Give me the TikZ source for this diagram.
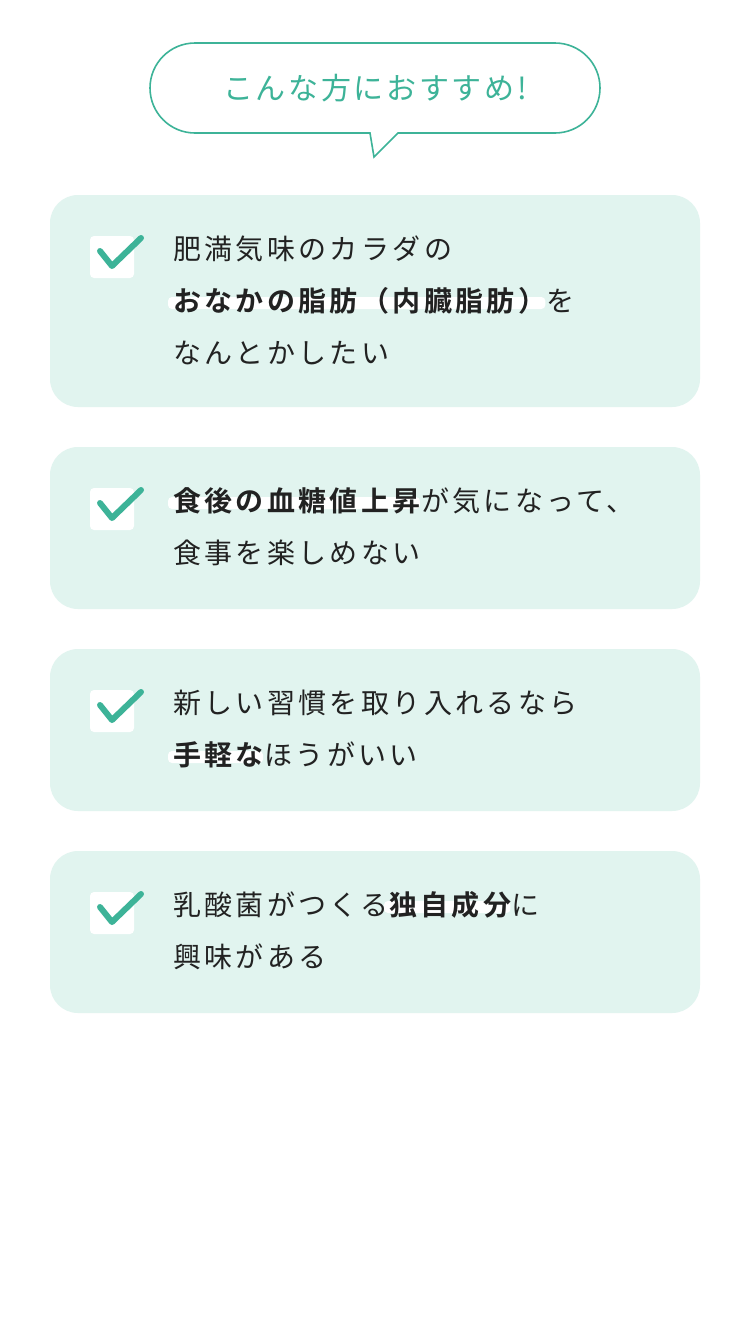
\documentclass[tikz,border=0pt]{standalone}
\usepackage{fontspec}
\setmainfont{Noto Sans CJK JP}
\newfontfamily\jpr[LetterSpace=12]{Noto Sans CJK JP}
\newfontfamily\jpb[LetterSpace=12]{Noto Sans CJK JP Bold}
\newfontfamily\jpt[LetterSpace=9]{Noto Sans CJK JP}
\definecolor{grn}{HTML}{3DB398}
\definecolor{cardbg}{HTML}{E1F4EF}
\definecolor{txtc}{HTML}{222222}
\pgfdeclarelayer{bgA}\pgfdeclarelayer{bgB}
\pgfsetlayers{bgA,bgB,main}
\tikzset{
 txt/.style={anchor=base west,inner sep=0pt,text=txtc,font=\fontsize{28}{32}\selectfont\jpr},
 btxt/.style={anchor=base west,inner sep=0pt,text=txtc,font=\fontsize{28}{32}\selectfont\jpb},
 card/.style={fill=cardbg,rounded corners=28pt},
 hl/.style={fill=white,rounded corners=4pt},
 chk/.style={draw=grn,line width=6pt,line cap=round,line join=round}
}
\newcommand\hilite[1]{\begin{pgfonlayer}{bgB}\fill[hl] ([xshift=-5pt,yshift=2pt]#1.base west) rectangle ([xshift=-1pt,yshift=14pt]#1.base east);\end{pgfonlayer}}
\newcommand\checkbox[1]{%
 \fill[white,rounded corners=4pt] (90,#1) rectangle (134,#1+42);
 \draw[chk] (100,#1+15) -- (112,#1+30) -- (141,#1+2);}
\begin{document}
\begin{tikzpicture}[x=1pt,y=-1pt]
\begin{pgfonlayer}{bgA}
\useasboundingbox[fill=white] (0,0) rectangle (750,1339);
\fill[card] (50,195) rectangle (700,407);
\fill[card] (50,447) rectangle (700,609);
\fill[card] (50,649) rectangle (700,811);
\fill[card] (50,851) rectangle (700,1013);
\end{pgfonlayer}
% bubble
\draw[grn,line width=1.6pt,fill=white] (195,43) -- (555,43) arc[start angle=-90,end angle=90,radius=45] -- (398,133) -- (374,157) -- (370,133) -- (195,133) arc[start angle=90,end angle=270,radius=45] -- cycle;
\node[font=\fontsize{30}{34}\selectfont\jpt,text=grn,inner sep=0pt] (title) at (375,88) {こんな方におすすめ!};
\checkbox{236}\checkbox{488}\checkbox{690}\checkbox{892}
% card 1
\node[txt] (a1) at (173,259) {肥満気味のカラダの};
\node[btxt] (a2) at (173,311) {おなかの脂肪（内臓脂肪）};
\node[txt] (a3) at (a2.base east) {を};
\hilite{a2}
\node[txt] (a4) at (173,363) {なんとかしたい};
% card 2
\node[btxt] (b1) at (173,511) {食後の血糖値上昇};
\node[txt] (b2) at (b1.base east) {が気になって、};
\hilite{b1}
\node[txt] (b3) at (173,563) {食事を楽しめない};
% card 3
\node[txt] (c1) at (173,713) {新しい習慣を取り入れるなら};
\node[btxt] (c2) at (173,765) {手軽な};
\node[txt] (c3) at (c2.base east) {ほうがいい};
\hilite{c2}
% card 4
\node[txt] (d1) at (173,915) {乳酸菌がつくる};
\node[btxt] (d2) at (d1.base east) {独自成分};
\node[txt] (d3) at (d2.base east) {に};
\hilite{d2}
\node[txt] (d4) at (173,967) {興味がある};
\end{tikzpicture}
\end{document}
